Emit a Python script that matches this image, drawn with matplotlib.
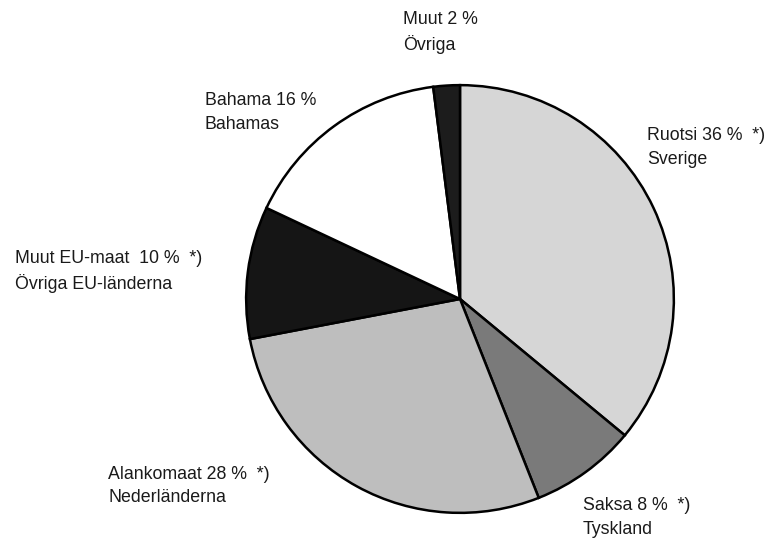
import matplotlib
matplotlib.use("Agg")
import matplotlib.pyplot as plt
from matplotlib import font_manager

# Data (clockwise from 12 o'clock)
labels_fi = ["Ruotsi", "Saksa", "Alankomaat", "Muut EU-maat ", "Bahama", "Muut"]
labels_sv = ["Sverige", "Tyskland", "Nederländerna", "Övriga EU-länderna", "Bahamas", "Övriga"]
shares = [36, 8, 28, 10, 16, 2]
footnote = [True, True, True, True, False, False]

colors = ["#d6d6d6", "#7a7a7a", "#bebebe", "#151515", "#ffffff", "#1c1c1c"]

# label anchor (left, top) in pixels
label_pos = [(647, 127), (583, 497), (108, 466), (15, 250), (205, 92), (403, 11)]

W, H = 773, 544
fam = ["Liberation Sans Narrow", "Liberation Sans", "DejaVu Sans"]
installed = {f.name for f in font_manager.fontManager.ttflist}
fam = [f for f in fam if f in installed]
plt.rcParams['font.family'] = fam

fig = plt.figure(figsize=(W / 100, H / 100), dpi=100)
cx, cy, r = 460, 299, 216
ax = fig.add_axes([(cx - r) / W, (H - cy - r) / H, 2 * r / W, 2 * r / H])
ax.pie(shares, colors=colors, startangle=90, counterclock=False,
       wedgeprops=dict(edgecolor="black", linewidth=1.8))
ax.set_xlim(-1.01, 1.01)
ax.set_ylim(-1.01, 1.01)
ax.set_aspect("equal")
ax.axis("off")

for fi, sv, s, fn, (px, py) in zip(labels_fi, labels_sv, shares, footnote, label_pos):
    top = "%s %d %%" % (fi, s)
    if fn:
        top += "  *)"
    fig.text(px / W, 1 - py / H, top + "\n" + sv, ha="left", va="top",
             fontsize=12.8, color="#1a1a1a", linespacing=1.5)

fig.savefig("out.png", dpi=100)
